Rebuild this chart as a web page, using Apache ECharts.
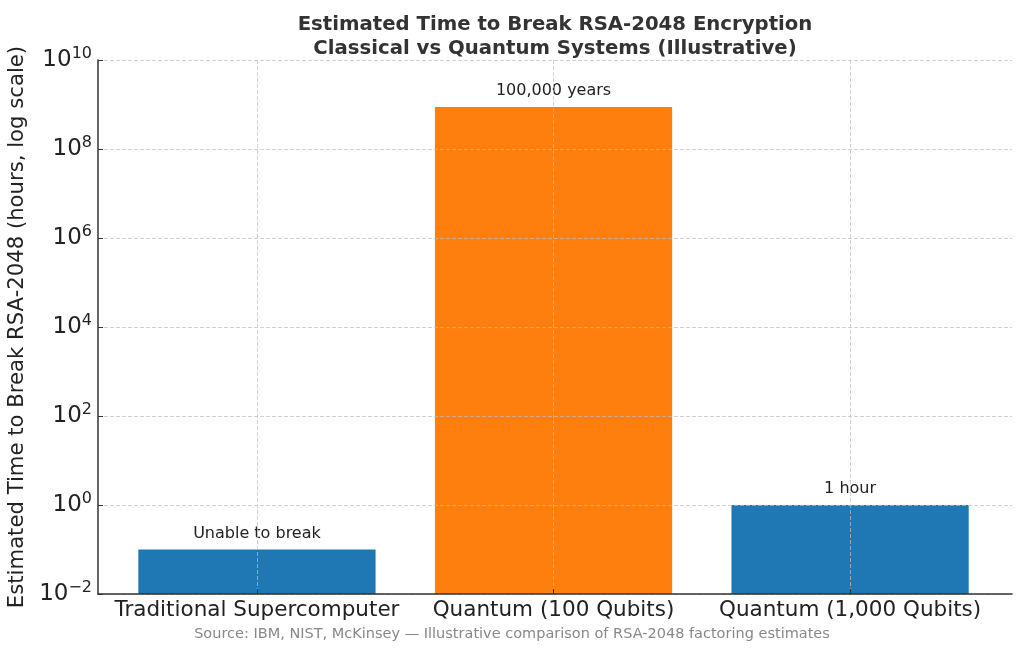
<!DOCTYPE html>
<html>
<head>
<meta charset="utf-8">
<script src="https://cdn.jsdelivr.net/npm/echarts@6/dist/echarts.min.js"></script>
<style>
  html, body { margin: 0; padding: 0; background: #fff; }
  #main { width: 1024px; height: 650px; }
</style>
</head>
<body>
<div id="main"></div>
<script>
// chart data
const categories = ['Traditional Supercomputer', 'Quantum (100 Qubits)', 'Quantum (1,000 Qubits)'];
const hours = [0.1, 876000000, 1];
const barLabels = ['Unable to break', '100,000 years', '1 hour'];
const barColors = ['#1f77b4', '#ff7f0e', '#1f77b4'];
const positions = [0, 1, 2];
const axisMin = 0.01;
const barSpan = 0.8;

const font = 'DejaVu Sans';
const gridColor = 'rgba(190,190,190,0.7)';
const chart = echarts.init(document.getElementById('main'));

// bars drawn from the bottom of the log axis up to each value
function renderBar(params, api) {
  const i = params.dataIndex;
  const x = api.value(0);
  const v = api.value(1);
  const topLeft = api.coord([x - barSpan / 2, v]);
  const bottomRight = api.coord([x + barSpan / 2, axisMin]);
  const mid = api.coord([x, v]);
  return {
    type: 'group',
    children: [
      {
        type: 'rect',
        shape: {
          x: topLeft[0],
          y: topLeft[1],
          width: bottomRight[0] - topLeft[0],
          height: bottomRight[1] - topLeft[1]
        },
        style: { fill: barColors[i] }
      },
      {
        type: 'text',
        style: {
          x: mid[0],
          y: mid[1] - 8,
          text: barLabels[i],
          align: 'center',
          verticalAlign: 'bottom',
          fontSize: 16,
          fontFamily: font,
          fill: '#222'
        }
      }
    ]
  };
}

const option = {
  animation: false,
  textStyle: { fontFamily: font },
  title: [
    {
      text: 'Estimated Time to Break RSA-2048 Encryption\nClassical vs Quantum Systems (Illustrative)',
      left: 550,
      top: 8,
      textAlign: 'center',
      textStyle: { fontSize: 19.7, fontWeight: 'bold', color: '#333', lineHeight: 24, fontFamily: font }
    },
    {
      text: 'Source: IBM, NIST, McKinsey \u2014 Illustrative comparison of RSA-2048 factoring estimates',
      left: 'center',
      top: 622,
      textStyle: { fontSize: 14.5, fontWeight: 'normal', color: '#888', fontFamily: font }
    }
  ],
  grid: { left: 98, right: 12, top: 60, bottom: 56, outerBoundsMode: 'none', containLabel: false },
  xAxis: {
    type: 'value',
    z: 3,
    min: -0.536,
    max: 2.546,
    axisLine: { show: true, onZero: false, lineStyle: { color: '#333', width: 1.5 } },
    axisTick: { show: true, inside: true, length: 5, customValues: positions, lineStyle: { color: '#333' } },
    axisLabel: {
      customValues: positions,
      formatter: v => categories[Math.round(v)],
      fontSize: 21.5,
      color: '#222',
      margin: 5
    },
    splitLine: { show: true, customValues: positions, lineStyle: { type: 'dashed', color: gridColor } }
  },
  yAxis: {
    type: 'log',
    z: 3,
    logBase: 10,
    min: axisMin,
    max: 1e10,
    interval: 2,
    name: 'Estimated Time to Break RSA-2048 (hours, log scale)',
    nameLocation: 'middle',
    nameGap: 65,
    nameTextStyle: { fontSize: 21.2, color: '#222' },
    axisLine: { show: true, onZero: false, lineStyle: { color: '#333', width: 1.5 } },
    axisTick: { show: true, inside: true, length: 5, lineStyle: { color: '#333' } },
    minorTick: { show: false },
    axisLabel: {
      margin: 6,
      formatter: v => {
        const e = Math.round(Math.log10(v));
        return '{b|10}{e|' + (e < 0 ? '\u2212' + (-e) : e) + '}';
      },
      rich: {
        b: { fontSize: 23, color: '#222', fontFamily: font, lineHeight: 26 },
        e: { fontSize: 16, color: '#222', fontFamily: font, verticalAlign: 'top', padding: [0, 0, 12, 0] }
      }
    },
    splitLine: { show: true, lineStyle: { type: 'dashed', color: gridColor } }
  },
  series: [{
    type: 'custom',
    z: 1,
    renderItem: renderBar,
    encode: { x: 0, y: 1 },
    data: positions.map((p, i) => [p, hours[i]])
  }]
};

chart.setOption(option);
</script>
</body>
</html>
